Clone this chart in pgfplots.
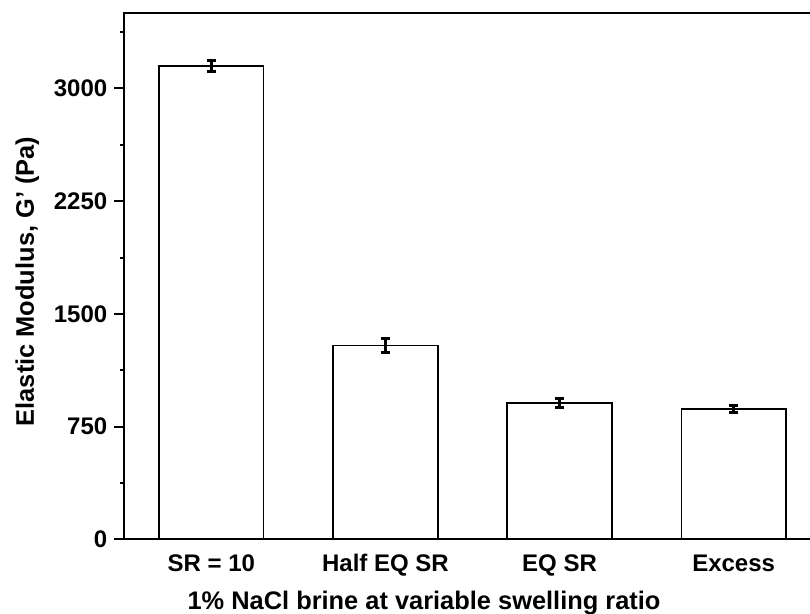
\documentclass[border=0pt]{standalone}
\usepackage{pgfplots}
\pgfplotsset{compat=1.18}
\usepackage{fontspec}
\setmainfont{Liberation Sans}
\begin{document}
\begin{tikzpicture}
\begin{axis}[
  scale only axis,
  width=348.2pt, height=263pt,
  xmin=0.5, xmax=4.5,
  ymin=0, ymax=3500,
  ybar, bar width=0.6,
  xtick={1,2,3,4},
  xticklabels={SR = 10, Half EQ SR, EQ SR, Excess},
  xtick style={draw=none},
  minor xtick={1.5,2.5,3.5},
  ytick={0,750,1500,2250,3000},
  minor ytick={375,1125,1875,2625,3375},
  ytick pos=left,
  tick align=outside,
  major tick length=5pt,
  minor tick length=2.2pt,
  every tick/.style={black, line width=1pt},
  axis line style={line width=1pt},
  /pgf/number format/assume math mode=true,
  /pgf/number format/1000 sep={},
  tick label style={font=\fontsize{12}{14}\selectfont\bfseries},
  xticklabel style={anchor=base, yshift=-10.9pt},
  yticklabel style={anchor=east},
  xlabel={1\% NaCl brine at variable swelling ratio},
  ylabel={Elastic Modulus, G' (Pa)},
  label style={font=\fontsize{12.7}{15}\selectfont\bfseries, inner sep=0pt},
  xlabel style={at={(axis description cs:0.4304,-0.1344)}, anchor=base},
  ylabel style={at={(axis description cs:-0.157,0.49)}, anchor=north, rotate=0},
]
\addplot[fill=white, draw=black, line width=0.9pt,
  error bars/.cd, y dir=both, y explicit,
  error bar style={line width=1.5pt, black},
  error mark options={rotate=90, mark size=2.4pt, line width=1.5pt, black}]
  coordinates {
  (1,3150) +- (0,35)
  (2,1290) +- (0,45)
  (3,906) +- (0,32)
  (4,868) +- (0,25)
};
\coordinate (bl) at (rel axis cs:0,0);
\end{axis}
\pgfresetboundingbox
\path[use as bounding box] ([shift={(-62.15pt,-37.35pt)}]bl) rectangle ([shift={(342.85pt,269.65pt)}]bl);
\end{tikzpicture}
\end{document}
